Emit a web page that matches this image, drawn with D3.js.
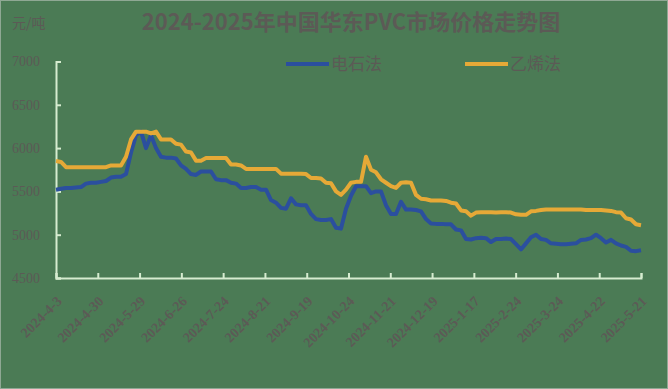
<!DOCTYPE html>
<html>
<head>
<meta charset="utf-8">
<script src="https://cdn.jsdelivr.net/npm/d3@7"></script>
<style>
  html, body { margin: 0; padding: 0; background: #4b7b55; }
  svg { display: block; }
</style>
</head>
<body>
<svg id="svg" width="668" height="389"></svg>
<script>
const title = '2024-2025年中国华东PVC市场价格走势图'
const unit = '元/吨'
const seriesNames = ['电石法', '乙烯法']

const dateLabels = ['2024-4-3', '2024-4-30', '2024-5-29', '2024-6-26', '2024-7-24', '2024-8-21',
  '2024-9-19', '2024-10-24', '2024-11-21', '2024-12-19', '2025-1-17', '2025-2-24',
  '2025-3-24', '2025-4-22', '2025-5-21']

const yTicks = [4500, 5000, 5500, 6000, 6500, 7000]

// 电石法, sampled evenly over the period
const carbide = [5520, 5530, 5540, 5540, 5545, 5550, 5590, 5600, 5600, 5610, 5620, 5660, 5670, 5670,
  5700, 5950, 6150, 6190, 6000, 6150, 6000, 5900, 5890, 5890, 5880, 5800, 5760, 5700, 5690, 5730,
  5730, 5730, 5640, 5630, 5630, 5600, 5590, 5540, 5540, 5550, 5550, 5520, 5520, 5400, 5370, 5310,
  5300, 5420, 5350, 5340, 5340, 5240, 5180, 5170, 5170, 5180, 5080, 5070, 5300, 5450, 5560, 5560,
  5560, 5480, 5500, 5500, 5340, 5240, 5240, 5380, 5290, 5290, 5285, 5270, 5180, 5130, 5125, 5125,
  5120, 5120, 5060, 5050, 4950, 4945, 4960, 4965, 4960, 4915, 4950, 4950, 4955, 4950, 4890, 4830,
  4900, 4970, 5000, 4950, 4940, 4900, 4895, 4890, 4890, 4895, 4900, 4940, 4945, 4960, 5000, 4960,
  4910, 4940, 4900, 4875, 4860, 4815, 4810, 4820]

// 乙烯法
const ethylene = [5850, 5840, 5780, 5780, 5780, 5780, 5780, 5780, 5780, 5780, 5780, 5800, 5800, 5800,
  5900, 6100, 6190, 6190, 6190, 6170, 6190, 6100, 6100, 6100, 6050, 6040, 5960, 5950, 5855, 5855,
  5885, 5885, 5885, 5885, 5885, 5810, 5810, 5800, 5760, 5760, 5760, 5760, 5760, 5760, 5760, 5705,
  5705, 5705, 5705, 5705, 5700, 5655, 5655, 5650, 5600, 5595, 5500, 5460, 5520, 5600, 5610, 5610,
  5900, 5750, 5720, 5640, 5600, 5560, 5540, 5600, 5605, 5600, 5460, 5415, 5410, 5395, 5395, 5395,
  5390, 5370, 5360, 5280, 5270, 5220, 5255, 5260, 5260, 5260, 5255, 5260, 5260, 5255, 5235, 5230,
  5230, 5270, 5275, 5285, 5290, 5290, 5290, 5290, 5290, 5290, 5290, 5290, 5285, 5285, 5285, 5285,
  5280, 5275, 5260, 5255, 5190, 5175, 5120, 5110]

const colors = ['#2b4f9e', '#e6a937']
const textColor = '#5c5a56'
const axisColor = '#d6ecd0'

const svg = d3.select('#svg')

const plotLeft = 56, plotRight = 641, plotTop = 61.5, plotBottom = 278

svg.append('rect')
  .attr('x', 0.5).attr('y', 0.5)
  .attr('width', 667).attr('height', 388)
  .attr('fill', '#4b7b55')
  .attr('stroke', '#8fa894')

let x = d3.scaleLinear().domain([0, carbide.length - 1]).range([plotLeft, plotRight])
let xTick = d3.scaleLinear().domain([0, dateLabels.length - 1]).range([plotLeft, plotRight])
let y = d3.scaleLinear().domain([4500, 7000]).range([plotBottom, plotTop])

// title and unit
svg.append('text')
  .attr('x', 351).attr('y', 30)
  .attr('text-anchor', 'middle')
  .attr('font-family', '"Noto Sans CJK SC", sans-serif')
  .attr('font-weight', 'bold')
  .attr('font-size', 22)
  .attr('fill', textColor)
  .text(title)

svg.append('text')
  .attr('x', 12).attr('y', 28)
  .attr('font-family', '"Noto Sans CJK SC", sans-serif')
  .attr('font-size', 14)
  .attr('fill', textColor)
  .text(unit)

// y axis
let yAxis = d3.axisLeft(y).tickValues(yTicks).tickSize(-5).tickPadding(16).tickFormat(d3.format('d'))
let gy = svg.append('g').attr('transform', 'translate(' + plotLeft + ',0)').call(yAxis)
gy.select('.domain').attr('stroke', axisColor).attr('stroke-width', 2)
gy.selectAll('.tick line').attr('stroke', axisColor).attr('stroke-width', 2)
gy.selectAll('.tick text')
  .attr('fill', textColor)
  .attr('font-family', '"Liberation Serif", serif')
  .attr('font-size', 14)

// x axis
let xAxis = d3.axisBottom(xTick)
  .tickValues(d3.range(dateLabels.length))
  .tickSize(-5)
  .tickFormat(i => dateLabels[i])
let gx = svg.append('g').attr('transform', 'translate(0,' + plotBottom + ')').call(xAxis)
gx.select('.domain').attr('stroke', axisColor).attr('stroke-width', 2)
gx.selectAll('.tick line').attr('stroke', axisColor).attr('stroke-width', 2)
gx.selectAll('.tick text')
  .attr('fill', textColor)
  .attr('font-family', '"Liberation Serif", serif')
  .attr('font-weight', 'bold')
  .attr('font-size', 14)
  .attr('text-anchor', 'end')
  .attr('dy', 0)
  .attr('transform', 'translate(4,22) rotate(-45)')

// lines
let line = d3.line()
  .x((d, i) => x(i))
  .y(d => y(d))

;[carbide, ethylene].forEach((s, k) => {
  svg.append('path')
    .datum(s)
    .attr('fill', 'none')
    .attr('stroke', colors[k])
    .attr('stroke-width', 4)
    .attr('stroke-linejoin', 'round')
    .attr('d', line)
})

// legend
let legendX = [286, 465]
seriesNames.forEach((name, k) => {
  let g = svg.append('g').attr('transform', 'translate(' + legendX[k] + ',64)')
  g.append('line')
    .attr('x1', 0).attr('x2', 43)
    .attr('stroke', colors[k])
    .attr('stroke-width', 4)
  g.append('text')
    .attr('x', 45).attr('y', 6)
    .attr('font-family', '"Noto Sans CJK SC", sans-serif')
    .attr('font-size', 17)
    .attr('fill', textColor)
    .text(name)
})
</script>
</body>
</html>
